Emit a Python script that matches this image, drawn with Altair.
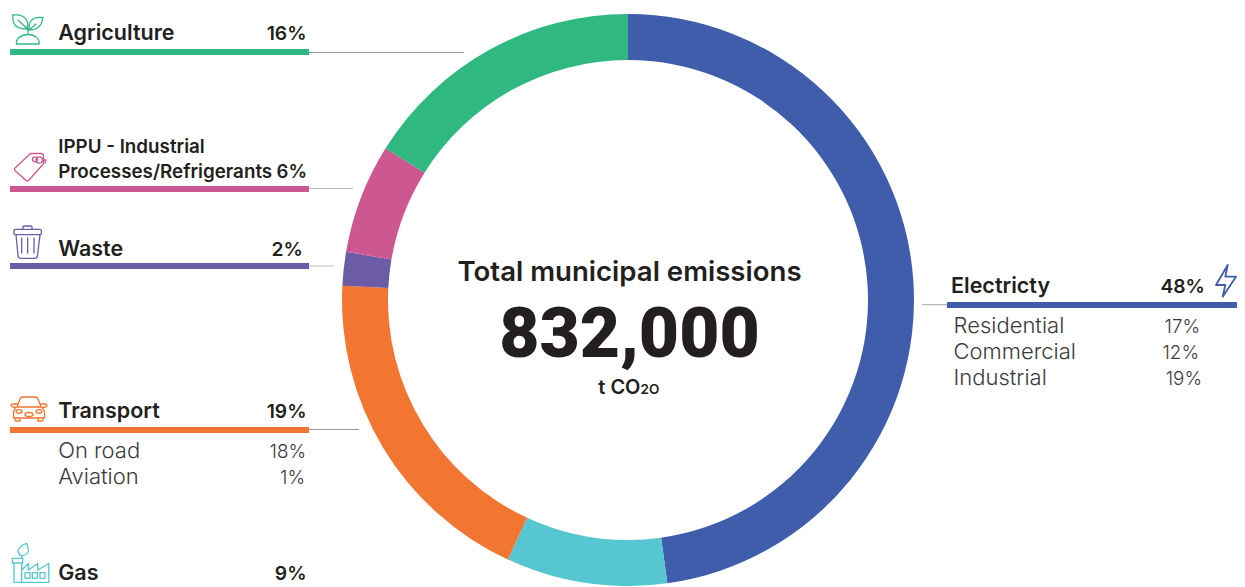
import altair as alt
import pandas as pd

# ---- data -------------------------------------------------------------
SECTORS = ["Electricty", "Gas", "Transport", "Waste", "IPPU", "Agriculture"]
SHARES = [47.8, 9.1, 18.9, 1.9, 6.2, 16.1]
COLORS = ["#3f5dab", "#56c6d0", "#f27632", "#6b5ca5", "#cd5790", "#2fb981"]
HEAD_LABELS = ["Agriculture", "Waste", "Transport", "Gas", "Electricty"]
HEAD_PCTS = ["16%", "2%", "19%", "9%", "48%"]
IPPU_LINES = ["IPPU - Industrial", "Processes/Refrigerants"]
IPPU_PCT = "6%"
TRANSPORT_SUB = ["On road", "Aviation"]
TRANSPORT_SUB_PCT = ["18%", "1%"]
ELEC_SUB = ["Residential", "Commercial", "Industrial"]
ELEC_SUB_PCT = ["17%", "12%", "19%"]
CENTER_TITLE = "Total municipal emissions"
CENTER_VALUE = "832,000"
CENTER_UNIT = ["t CO", "2O"]

FONT = "Inter"
DARK = "#231f20"
SOFT = "#3c3a3b"
W, H = 1229, 579


def X(v):
    return alt.value(v - 8)


def Y(v):
    return alt.value(v - 8)


def text(s, x, y, size, weight=600, align="left", color=DARK, font=FONT):
    return (
        alt.Chart(pd.DataFrame({"t": [s]}))
        .mark_text(font=font, fontSize=size, fontWeight=weight, align=align,
                   baseline="alphabetic", color=color)
        .encode(text="t:N", x=X(x), y=Y(y))
    )


def box(color, x1, x2, y1, y2):
    return (
        alt.Chart(pd.DataFrame({"a": [0]}))
        .mark_rect(color=color)
        .encode(x=X(x1), x2=X(x2), y=Y(y1), y2=Y(y2))
    )


def rule(color, x1, x2, y):
    return (
        alt.Chart(pd.DataFrame({"a": [0]}))
        .mark_rule(color=color, strokeWidth=1)
        .encode(x=X(x1), x2=X(x2), y=Y(y))
    )


def icon(path, color, ox, oy, sw=1.3):
    # a custom symbol of size 4 draws its path at a scale of one pixel per unit
    return (
        alt.Chart(pd.DataFrame({"a": [0]}))
        .mark_point(shape=path, size=4, filled=False, color=color, opacity=1,
                    strokeWidth=sw, strokeJoin="round", strokeCap="round")
        .encode(x=X(ox), y=Y(oy))
    )


SPROUT = ("M8.5,34 L31,34 C32,29 27,24.5 20,24.5 C13,24.5 7.5,29 8.5,34 Z "
          "M4.7,5 C10,4.5 16,5 18.5,10 C20.5,13 20,16 19,19 C13,19 7,17 5.5,12 C4.8,10 4.7,7 4.7,5 Z "
          "M10,10 L19.5,19 "
          "M34.7,7.5 C30,7 25,8 23,11 C21,14 21,17 21,20 C26,20 31,18 33,14 C34.3,12 34.7,10 34.7,7.5 Z "
          "M28,14 L21,20 M20,19 L20,24.5")
TAG = ("M23,5.5 L33,5.5 Q35.5,5.5 35.5,8 L35.5,15 Q35.5,16.5 34,17.5 L20.5,32.5 Q19,33.5 17.5,32 "
       "L7,22.5 Q6,21 7,20 L21.5,6.5 Q22,5.5 23,5.5 Z "
       "M24.5,11.3 A2.5,2.5 0 1 1 29.5,11.3 A2.5,2.5 0 1 1 24.5,11.3 Z "
       "M28,12 A3.2,3.2 0 1 1 34.4,12 A3.2,3.2 0 1 1 28,12 Z M34.4,12 L38,12 L37,15")
TRASH = ("M15,7.3 L15,5 Q15,4 16,4 L23,4 Q24,4 24,5 L24,7.3 "
         "M7.5,7.3 L32,7.3 Q33.3,7.3 33.3,8.5 L33.3,11.5 Q33.3,12.7 32,12.7 L7.5,12.7 Q6,12.7 6,11.5 L6,8.5 Q6,7.3 7.5,7.3 Z "
         "M8,12.7 L10,33.5 Q10.3,36.3 13,36.3 L26.5,36.3 Q29.2,36.3 29.5,33.5 L32,12.7 "
         "M13.7,16 L13.7,31 M19.7,16 L19.7,31 M26,16 L26,31")
CAR = ("M9,15 L12,7 Q12.5,5 15,5 L27,5 Q29.5,5 30,7 L33,15 "
       "M9,15 L33,15 Q36.5,17 36.5,21 L36.5,26 L5.5,26 L5.5,21 Q5.5,17 9,15 Z "
       "M7,26 L7,28 Q7,29 8,29 L12,29 L12,26 M30,26 L30,29 L34,29 Q35,29 35,28 L35,26 "
       "M9,12 L5,12 Q3,12 3,13.5 Q3,15 5,15 L7.5,15.5 M33,12 L37,12 Q39,12 39,13.5 Q39,15 37,15 L34.5,15.5 "
       "M8,19.5 A3,1.8 0 1 1 14,19.5 A3,1.8 0 1 1 8,19.5 Z "
       "M28,19.5 A3,1.8 0 1 1 34,19.5 A3,1.8 0 1 1 28,19.5 Z "
       "M17,22.5 A4,2 0 1 1 25,22.5 A4,2 0 1 1 17,22.5 Z")
FACTORY = ("M4.3,18.3 L14.7,18.3 L14.7,23 L4.3,23 Z M6,23 L6,42.3 L40.8,42.3 L40.8,23.5 L29.7,30 L29.7,23.5 "
           "L20.3,30 L20.3,23.5 L13.7,30 L13.7,23 M13.7,30 L13.7,42.3 "
           "M17,32.7 L22,32.7 L22,38.3 L17,38.3 Z M24.3,32.7 L29.3,32.7 L29.3,38.3 L24.3,38.3 Z "
           "M32,32.7 L37,32.7 L37,38.3 L32,38.3 Z "
           "M18.7,3.3 C13,5 9.5,9 10.3,12 C11,14.5 12.5,15.5 13.7,15.7 C17,15.5 20,13.5 20.3,11 C20.6,8.5 19.5,6 18.7,3.3 Z "
           "M13.7,15.7 L13.7,18.3")
BOLT = "M19.7,5 L8,25 L17.3,25 L14.7,36.7 L28,16.7 L17.3,16.7 Z"

# ---- donut --------------------------------------------------------------
donut_df = pd.DataFrame({"sector": SECTORS, "share": SHARES, "rank": range(len(SECTORS))})
donut = (
    alt.Chart(donut_df)
    .mark_arc(radius=286, radius2=240)
    .encode(
        theta=alt.Theta("share:Q", stack=True),
        order=alt.Order("rank:Q"),
        color=alt.Color("sector:N", scale=alt.Scale(domain=SECTORS, range=COLORS), legend=None),
        x=X(628),
        y=Y(300),
    )
)

c = dict(zip(SECTORS, COLORS))
HS = 21.5
PS = 19.3
SS = 22
SP = 18.8
LX = 58.2
layers = [
    donut,
    # leaders
    rule("#9a9a9c", 309, 464, 52.5),
    rule("#bdbdbd", 309, 353, 188.5),
    rule("#bdbdbd", 309, 334, 266),
    rule("#9a9a9c", 309, 359, 429.5),
    rule("#a8a8a8", 922, 947, 304.7),
    # colour bars
    box(c["Agriculture"], 10, 309, 49, 55),
    box(c["IPPU"], 10, 309, 186, 192),
    box(c["Waste"], 10, 309, 263, 269),
    box(c["Transport"], 10, 309, 427, 433),
    box(c["Electricty"], 947, 1245, 302, 308),
    # icons
    icon(SPROUT, c["Agriculture"], 8, 10),
    icon(TAG, c["IPPU"], 8, 148),
    icon(TRASH, c["Waste"], 8, 222),
    icon(CAR, c["Transport"], 8, 392),
    icon(FACTORY, c["Gas"], 8, 540),
    icon(BOLT, c["Electricty"], 1208, 260, sw=1.8),
    # headings
    text(HEAD_LABELS[0], LX, 40, HS),
    text(HEAD_PCTS[0], 306.5, 40, PS, align="right"),
    text(IPPU_LINES[0], LX, 153, 18.8),
    text(IPPU_LINES[1], LX, 178, 18.8),
    text(IPPU_PCT, 307, 178, 18.5, align="right"),
    text(HEAD_LABELS[1], LX, 256, HS),
    text(HEAD_PCTS[1], 303, 256, PS, align="right"),
    text(HEAD_LABELS[2], LX, 418, HS),
    text(HEAD_PCTS[2], 306.5, 418, PS, align="right"),
    text(HEAD_LABELS[3], LX, 580, HS),
    text(HEAD_PCTS[3], 306.5, 580, PS, align="right"),
    text(HEAD_LABELS[4], 951, 292.7, HS),
    text(HEAD_PCTS[4], 1205, 292.7, PS, align="right"),
    # sub rows
    text(TRANSPORT_SUB[0], LX, 458, SS, 300, color=SOFT),
    text(TRANSPORT_SUB[1], LX, 484, SS, 300, color=SOFT),
    text(TRANSPORT_SUB_PCT[0], 306, 458, SP, 300, "right", SOFT),
    text(TRANSPORT_SUB_PCT[1], 305, 484, SP, 300, "right", SOFT),
    text(ELEC_SUB[0], 953.5, 333, SS, 300, color=SOFT),
    text(ELEC_SUB[1], 953.5, 359, SS, 300, color=SOFT),
    text(ELEC_SUB[2], 953.5, 385, SS, 300, color=SOFT),
    text(ELEC_SUB_PCT[0], 1200, 333, SP, 300, "right", SOFT),
    text(ELEC_SUB_PCT[1], 1199, 359, SP, 300, "right", SOFT),
    text(ELEC_SUB_PCT[2], 1202, 385, SP, 300, "right", SOFT),
    # centre
    text(CENTER_TITLE, 629.5, 281, 27.6, align="center"),
    text(CENTER_VALUE, 629.5, 357, 69.5, 900, align="center", font="Roboto"),
    text(CENTER_UNIT[0], 640.5, 394, 20, align="right"),
    text(CENTER_UNIT[1], 640.5, 394, 13.5, align="left"),
]

chart = (
    alt.layer(*layers)
    .properties(width=W, height=H, padding=0, background="white",
                autosize=alt.AutoSizeParams(type="none"))
    .configure_view(stroke=None)
)
chart.save("out.html", embed_options={"renderer": "svg", "actions": False})
